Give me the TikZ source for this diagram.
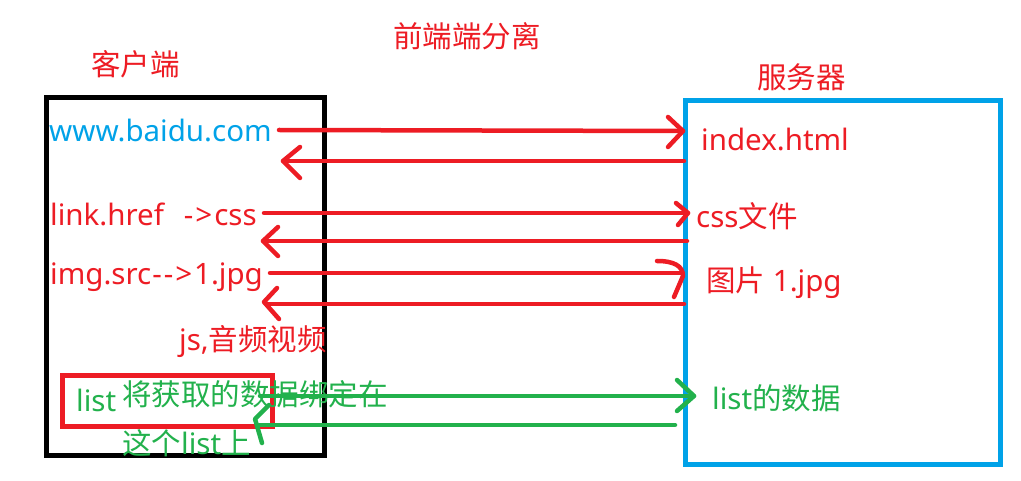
\documentclass[tikz,border=0pt]{standalone}
\usepackage{fontspec}
\setmainfont{Noto Sans}
\newfontfamily\cjk{Noto Sans CJK SC}
\definecolor{pred}{HTML}{ED1C24}
\definecolor{pblue}{HTML}{00A2E8}
\definecolor{pgreen}{HTML}{22B14C}
\begin{document}
\begin{tikzpicture}[x=1pt,y=-1pt,
  lbl/.style={inner sep=0pt,anchor=base west,font=\fontsize{29.5}{33}\selectfont},
  rline/.style={draw=pred,line width=4.5pt,line cap=round,line join=round},
  gline/.style={draw=pgreen,line width=4.5pt,line cap=round,line join=round},
  boxline/.style={line width=4.5pt}]
\useasboundingbox (0,0) rectangle (1021,481);
% boxes
\draw[boxline,draw=black] (46.5,97.5) rectangle (324.5,455.5);
\draw[boxline,draw=pblue] (685.5,100.5) rectangle (1000.5,464.5);
\draw[boxline,draw=pred] (62.5,375.5) rectangle (272.5,426.5);
% titles
\node[lbl,text=pred] (client) at (91,76) {\cjk 客户端};
\node[lbl,text=pred] (title) at (393,48) {\cjk 前端端分离};
\node[lbl,text=pred] (server) at (757,89) {\cjk 服务器};
% client texts
\node[lbl,text=pblue] (www) at (49,142) {www.baidu.com};
\node[lbl,text=pred] (link) at (50,226) {link.href\hspace{20pt}\mbox{-}\kern2pt>\kern2pt css};
\node[lbl,text=pred] (img) at (50,285) {img.src\kern1pt\mbox{-}\kern2pt\mbox{-}\kern2pt>\kern2pt 1.jpg};
\node[lbl,text=pred] (js) at (179,350) {js,{\cjk 音频视频}};
\node[lbl,text=pgreen] (list) at (76,411) {list};
\node[lbl,text=pgreen] (bind1) at (122,405) {\cjk 将获取的数据绑定在};
\node[lbl,text=pgreen] (bind2) at (122,454) {{\cjk 这个}list{\cjk 上}};
% server texts
\node[lbl,text=pred] (index) at (701,151) {index.html};
\node[lbl,text=pred] (cssf) at (696,228) {css{\cjk 文件}};
\node[lbl,text=pred] (pic) at (706,292) {{\cjk 图片} 1.jpg};
\node[lbl,text=pgreen] (ldata) at (712,409) {list{\cjk 的数据}};
% arrow coordinates
\coordinate (a1s) at (279,130); \coordinate (a1e) at (683,131);
\coordinate (a2s) at (684,161); \coordinate (a2e) at (283,161);
\coordinate (a3s) at (264,213); \coordinate (a3e) at (688,213);
\coordinate (a4s) at (687,241); \coordinate (a4e) at (263,241);
\coordinate (a5s) at (270,273); \coordinate (a5e) at (682,273);
\coordinate (a6s) at (684,304); \coordinate (a6e) at (266,304);
\coordinate (g1s) at (260,396); \coordinate (g1e) at (694,396);
\coordinate (g2s) at (675,425); \coordinate (g2e) at (259,425);
% red arrows
\draw[rline] (a1s) -- (a1e);
\draw[rline] (668,117) -- (a1e) -- (668,147);
\draw[rline] (a2s) -- (a2e);
\draw[rline] (300,147) -- (a2e) -- (300,178);
\draw[rline] (a3s) -- (a3e);
\draw[rline] (676,203) -- (a3e) -- (678,225);
\draw[rline] (a4s) -- (a4e);
\draw[rline] (278,227) -- (a4e) -- (278,256);
\draw[rline] (a5s) -- (a5e);
\draw[rline] (657,261) .. controls (674,261) and (683,266) .. (683,276) -- (674,297);
\draw[rline] (a6s) -- (a6e);
\draw[rline] (277,288) -- (264,302) -- (279,319);
% green arrows
\draw[gline] (g1s) -- (g1e);
\draw[gline] (677,380) -- (g1e) -- (677,411);
\draw[gline] (g2s) -- (g2e);
\draw[gline] (269,405) -- (255,419) -- (262,443);
\end{tikzpicture}
\end{document}
